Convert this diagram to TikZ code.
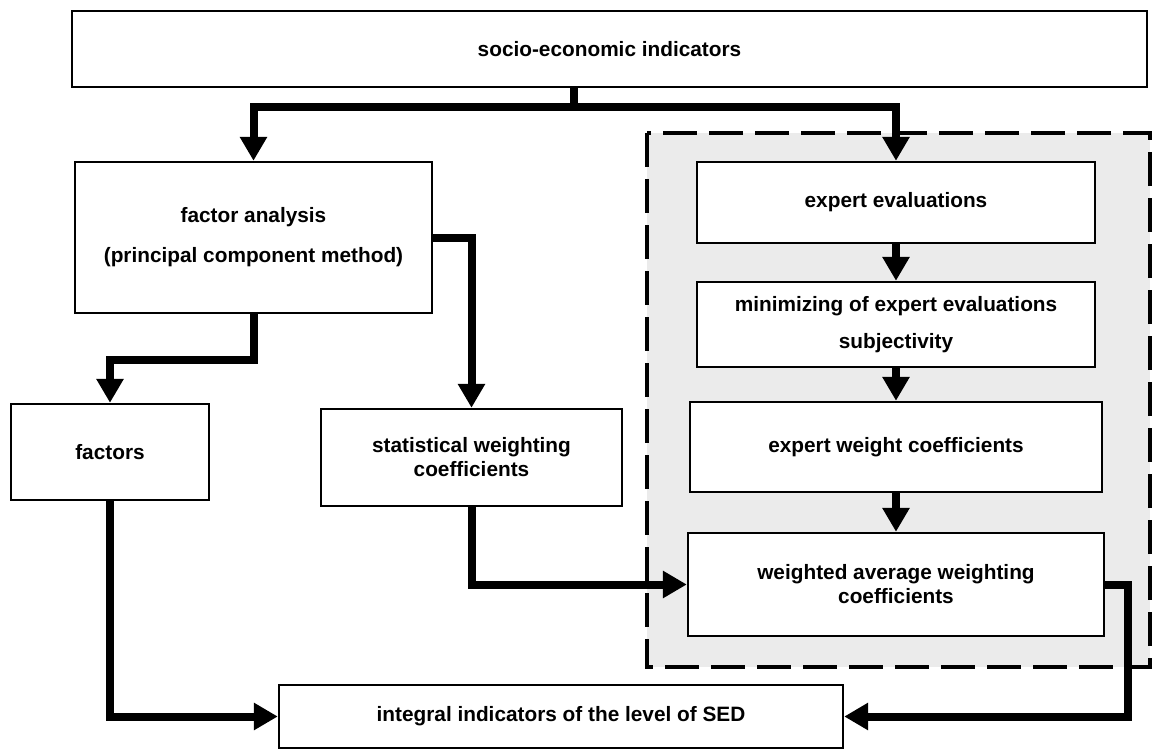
\documentclass[tikz,border=0pt]{standalone}
\usepackage{fontspec}
\setmainfont{Liberation Sans}
\usetikzlibrary{arrows.meta}

\begin{document}
\begin{tikzpicture}[x=0.5pt, y=-0.5pt,
	box/.style={draw, line width=1.2pt, fill=white, inner sep=0pt, align=center, font=\bfseries\fontsize{10.4}{12}\selectfont},
	flow/.style={line width=4pt},
	arr/.style={flow, -{Triangle[width=13pt, length=12pt]}}]
	\useasboundingbox (0,0) rectangle (1152,749);
	
	\draw[line width=2pt, dash pattern=on 17pt off 6pt, fill=black!8] (647,133) rectangle (1150,667);	% Expertenblock
	
	\node[box, minimum width=537.5pt, minimum height=38pt] (soc) at (609.5,49) {socio-economic indicators};
	\node[box, minimum width=178.5pt, minimum height=75.5pt] (factor) at (253.5,237.5) {factor analysis\\[8pt](principal component method)};
	\node[box, minimum width=99pt, minimum height=48pt] (factors) at (110,452) {factors};
	\node[box, minimum width=150.5pt, minimum height=48.5pt] (stat) at (471.5,457.5) {statistical weighting\\coefficients};
	\node[box, minimum width=282pt, minimum height=31.5pt] (integral) at (561,716.5) {integral indicators of the level of SED};
	
	% rechte Seite
	\node[box, minimum width=199pt, minimum height=40.5pt] (eval) at (896,202.5) {expert evaluations};
	\node[box, minimum width=199pt, minimum height=42.5pt] (mini) at (896,324.5) {minimizing of expert evaluations\\[6.5pt]subjectivity};
	\node[box, minimum width=206pt, minimum height=45pt] (eweight) at (896,447) {expert weight coefficients};
	\node[box, minimum width=208pt, minimum height=51.5pt] (wavg) at (896,584.5) {weighted average weighting\\coefficients};
	
	\coordinate (split) at (574,107);
	\draw[flow] (soc.south -| split) -- (split);		% Abzweig
	\draw[arr] (split) -| (factor.north);
	\draw[arr] (split) -| (eval.north);
	
	\draw[arr] (factor.east) -| (stat.north);
	\draw[arr] (factor.south) -- ++(0,46) -| (factors.north);
	\draw[arr] (factors.south) |- (integral.west);
	\draw[arr] (stat.south) |- (wavg.west);
	
	\draw[arr] (eval.south) -- (mini.north);
	\draw[arr] (mini.south) -- (eweight.north);
	\draw[arr] (eweight.south) -- (wavg.north);
	\draw[arr] (wavg.east) -- ++(23,0) |- (integral.east);
\end{tikzpicture}
\end{document}
